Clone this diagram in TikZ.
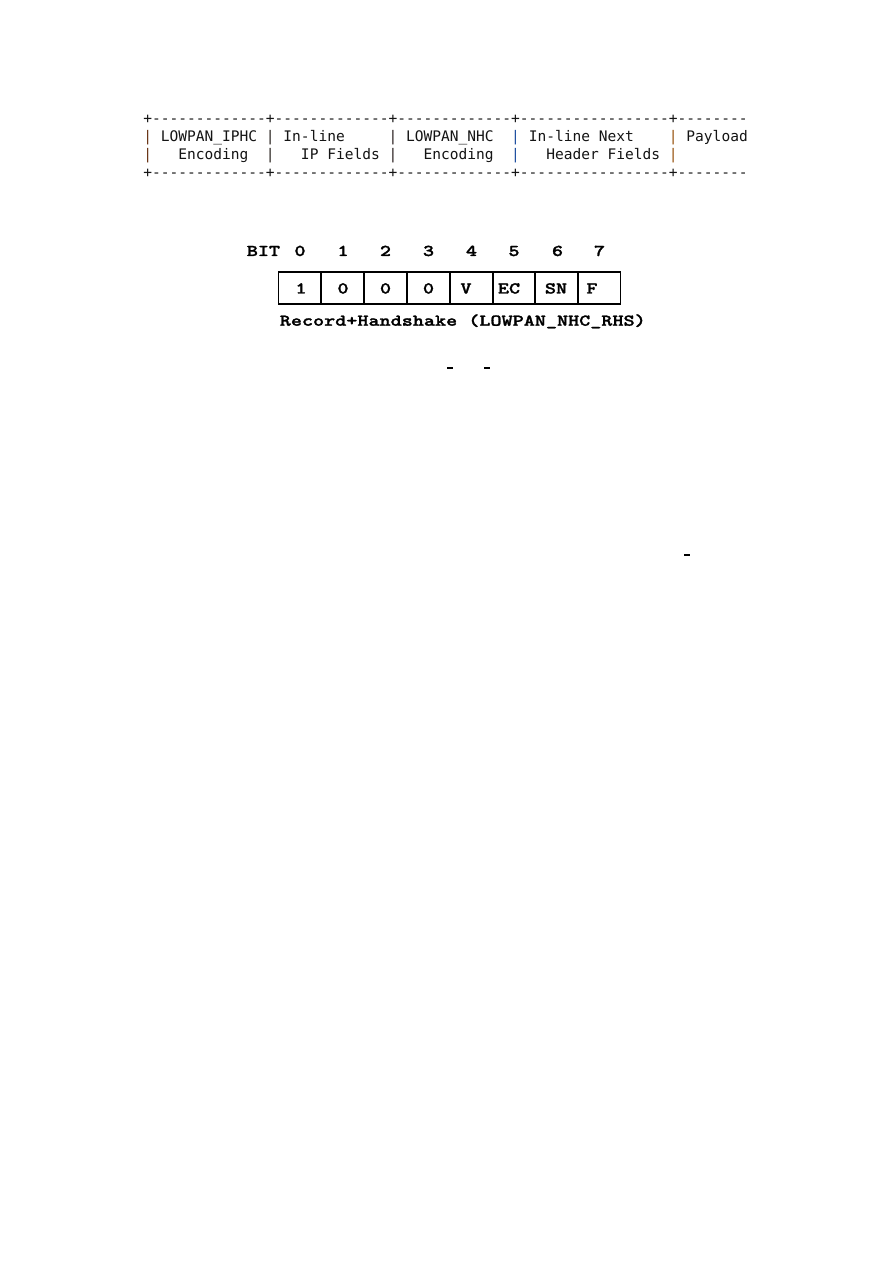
\documentclass[tikz,border=0pt]{standalone}
\usepackage{fontspec}
\usepackage{graphicx}
\newfontfamily\tblfont{DejaVu Sans Mono}
\newfontfamily\bitfam{lmmonolt10-bold.otf}[FakeStretch=1.28,FakeBold=1.6]
\definecolor{ink}{HTML}{141414}
\definecolor{pbrown}{HTML}{6A3416}
\definecolor{pdark}{HTML}{2A2420}
\definecolor{pblack}{HTML}{2A2020}
\definecolor{pblue}{HTML}{1F4FA0}
\definecolor{porange}{HTML}{985410}
\newcommand\dashrun[1]{\foreach\k in {1,...,#1}{-\kern0pt}}
\newcommand\pp[1]{\textcolor{#1}{|}}
\newcommand\bt[1]{{\bitfam\fontsize{11}{13}\selectfont #1}}
\tikzset{
  tline/.style={anchor=base west, inner sep=0pt, text=ink, font=\tblfont\fontsize{9.7}{11.6}\selectfont},
  blabel/.style={anchor=base, inner sep=0pt, text=black},
  blabelw/.style={anchor=base west, inner sep=0pt, text=black},
  grid/.style={draw=black, line width=0.85pt},
  stray/.style={draw=black, line width=0.8pt}
}
\begin{document}
\begin{tikzpicture}[x=0.66661pt,y=-0.66661pt]
\useasboundingbox (0,0) rectangle (893,1263);
\fill[white] (0,0) rectangle (893,1263);

% ---- ASCII header table ----
\node[tline] (t1) at (143,123.7) {+\dashrun{13}+\dashrun{13}+\dashrun{13}+\dashrun{17}+\dashrun{8}};
\node[tline] (t2) at (143,141.7) {\pp{pbrown}~LOWPAN\_IPHC~\pp{pdark}~In-line~~~~~\pp{pblack}~LOWPAN\_NHC~~\pp{pblue}~In-line~Next~~~~\pp{porange}~Payload};
\node[tline] (t3) at (143,159.7) {\pp{pbrown}~~~Encoding~~\pp{pdark}~~~IP~Fields~\pp{pblack}~~~Encoding~~\pp{pblue}~~~Header~Fields~\pp{porange}};
\node[tline] (t4) at (143,177.5) {+\dashrun{13}+\dashrun{13}+\dashrun{13}+\dashrun{17}+\dashrun{8}};

% ---- bit diagram ----
\node[blabelw] (bit) at (246.5,256) {\bt{BIT}};
\foreach \n/\x in {0/300,1/343,2/385.5,3/428.5,4/471.5,5/514,6/557.5,7/599.5}
  \node[blabel] (b\n) at (\x,256) {\bt{\n}};

\draw[grid] (278.5,272) rectangle (620.5,304);
\foreach \x in {321,364,407,450,493,535,578}
  \draw[grid] (\x,272) -- (\x,304);

\node[blabel] (v0) at (301,293.5) {\bt{1}};
\node[blabel] (v1) at (343,293.5) {\bt{0}};
\node[blabel] (v2) at (385.5,293.5) {\bt{0}};
\node[blabel] (v3) at (428.5,293.5) {\bt{0}};
\node[blabel] (v4) at (466,293.5) {\bt{V}};
\node[blabel] (v5) at (509,293.5) {\bt{EC}};
\node[blabel] (v6) at (556,293.5) {\bt{SN}};
\node[blabel] (v7) at (592,293.5) {\bt{F}};

\node[blabelw] (rhs) at (279.5,325.7) {\bt{Record+Handshake (LOWPAN\_NHC\_RHS)}};

% ---- stray marks ----
\draw[stray] (447,368) -- (453,368);
\draw[stray] (484,368) -- (490,368);
\draw[stray] (684,555) -- (690,555);
\end{tikzpicture}
\end{document}
